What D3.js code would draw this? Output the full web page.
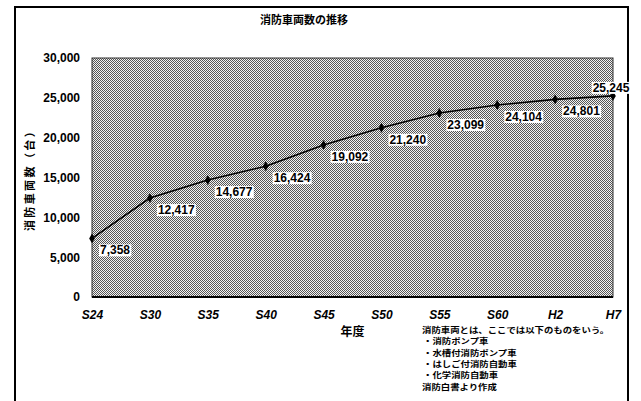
<!DOCTYPE html>
<html>
<head>
<meta charset="utf-8">
<script src="https://cdn.jsdelivr.net/npm/d3@7"></script>
<style>
  html, body { margin: 0; padding: 0; background: #fff; }
  svg { display: block; }
  .num { font-family: "Liberation Sans", Arial, sans-serif; font-weight: bold; font-size: 12px; fill: #000; }
  .jp { font-family: "Noto Sans CJK JP", sans-serif; font-weight: bold; fill: #000; }
</style>
</head>
<body>
<script>
// 消防車両数の推移（昭和24年度〜平成7年度）
const categories = ["S24", "S30", "S35", "S40", "S45", "S50", "S55", "S60", "H2", "H7"];
const values = [7358, 12417, 14677, 16424, 19092, 21240, 23099, 24104, 24801, 25245];
const yTicks = [0, 5000, 10000, 15000, 20000, 25000, 30000];
const noteLines = [
  "消防車両とは、ここでは以下のものをいう。",
  "・消防ポンプ車",
  "・水槽付消防ポンプ車",
  "・はしご付消防自動車",
  "・化学消防自動車",
  "消防白書より作成"
];

const W = 641, H = 401;
const plot = { left: 92, right: 613, top: 58, bottom: 297 };

const svg = d3.select("body").append("svg")
  .attr("width", W).attr("height", H);

// dithered grey fill for the plot area
const defs = svg.append("defs");
const pat = defs.append("pattern")
  .attr("id", "dither").attr("patternUnits", "userSpaceOnUse")
  .attr("width", 2).attr("height", 2);
pat.append("rect").attr("width", 2).attr("height", 2).attr("fill", "#f2f2f2");
pat.append("rect").attr("x", 0).attr("y", 0).attr("width", 1).attr("height", 1).attr("fill", "#555").attr("shape-rendering", "crispEdges");
pat.append("rect").attr("x", 1).attr("y", 1).attr("width", 1).attr("height", 1).attr("fill", "#555").attr("shape-rendering", "crispEdges");

// outer frame (open at the bottom)
svg.append("path")
  .attr("d", `M15,${H + 2} L15,7 L628,7 L628,${H + 2}`)
  .attr("fill", "none").attr("stroke", "#000").attr("stroke-width", 2);

// title
svg.append("text").attr("class", "jp")
  .attr("x", 304).attr("y", 24)
  .attr("text-anchor", "middle").attr("font-size", 11)
  .text("消防車両数の推移");

const x = d3.scalePoint().domain(categories).range([plot.left, plot.right]).padding(0);
const y = d3.scaleLinear().domain([0, 30000]).range([plot.bottom, plot.top]);

// plot background
svg.append("rect")
  .attr("x", plot.left).attr("y", plot.top)
  .attr("width", plot.right - plot.left).attr("height", plot.bottom - plot.top)
  .attr("fill", "url(#dither)")
  .attr("stroke", "#333").attr("stroke-width", 1);
svg.append("line")
  .attr("x1", plot.left).attr("x2", plot.right)
  .attr("y1", plot.bottom).attr("y2", plot.bottom)
  .attr("stroke", "#000").attr("stroke-width", 2);

// y axis labels
const fmt = d3.format(",");
const yAxis = d3.axisLeft(y).tickValues(yTicks).tickFormat(fmt).tickSize(0).tickPadding(12);
const yg = svg.append("g").attr("transform", `translate(${plot.left},0)`).call(yAxis);
yg.select(".domain").remove();
yg.selectAll("text").attr("class", "num").attr("font-family", null).attr("font-size", null);

// x axis labels
const xAxis = d3.axisBottom(x).tickSize(0).tickPadding(13);
const xg = svg.append("g").attr("transform", `translate(0,${plot.bottom})`).call(xAxis);
xg.select(".domain").remove();
xg.selectAll("text").attr("class", "num").attr("font-family", null).attr("font-size", null)
  .attr("font-style", "italic");

// axis titles
svg.append("text").attr("class", "jp")
  .attr("transform", `translate(34,${(plot.top + plot.bottom) / 2}) rotate(-90)`)
  .attr("text-anchor", "middle").attr("font-size", 11).attr("letter-spacing", 2.4)
  .text("消防車両数（台）");
svg.append("text").attr("class", "jp")
  .attr("x", (plot.left + plot.right) / 2).attr("y", 336)
  .attr("text-anchor", "middle").attr("font-size", 12)
  .text("年度");

// series line
const pts = categories.map((c, i) => ({ c, v: values[i] }));
svg.append("path").datum(pts)
  .attr("fill", "none").attr("stroke", "#000").attr("stroke-width", 1.6)
  .attr("d", d3.line().x(d => x(d.c)).y(d => y(d.v)));

// markers
svg.selectAll(".mk").data(pts).enter().append("path")
  .attr("class", "mk")
  .attr("transform", d => `translate(${x(d.c)},${y(d.v)})`)
  .attr("d", d3.symbol().type(d3.symbolDiamond).size(28))
  .attr("fill", "#000");

// value labels on white boxes
const lab = svg.selectAll(".lab").data(pts).enter().append("g").attr("class", "lab");
lab.each(function (d, i) {
  const g = d3.select(this);
  const last = i === pts.length - 1;
  const tx = last ? x(d.c) - 2 : x(d.c) + 8;
  const ty = last ? y(d.v) - 4 : y(d.v) + 16;
  const t = g.append("text").attr("class", "num")
    .attr("x", tx).attr("y", ty)
    .attr("text-anchor", last ? "middle" : "start")
    .text(fmt(d.v));
  const bb = t.node().getBBox();
  g.insert("rect", "text")
    .attr("x", bb.x - 1).attr("y", bb.y + 1)
    .attr("width", bb.width + 2).attr("height", bb.height - 2)
    .attr("fill", "#fff");
});

// source note: compact lines, glyphs widened horizontally
const note = svg.append("g").attr("class", "note");
noteLines.forEach((s, i) => {
  const lx = i > 0 && i < noteLines.length - 1 ? 423 : 422;
  const ly = 333 + i * 11.3;
  note.append("text").attr("class", "jp").attr("font-size", 7.7)
    .attr("transform", `translate(${lx},${ly}) scale(1.22,1)`)
    .text(s);
});
</script>
</body>
</html>
